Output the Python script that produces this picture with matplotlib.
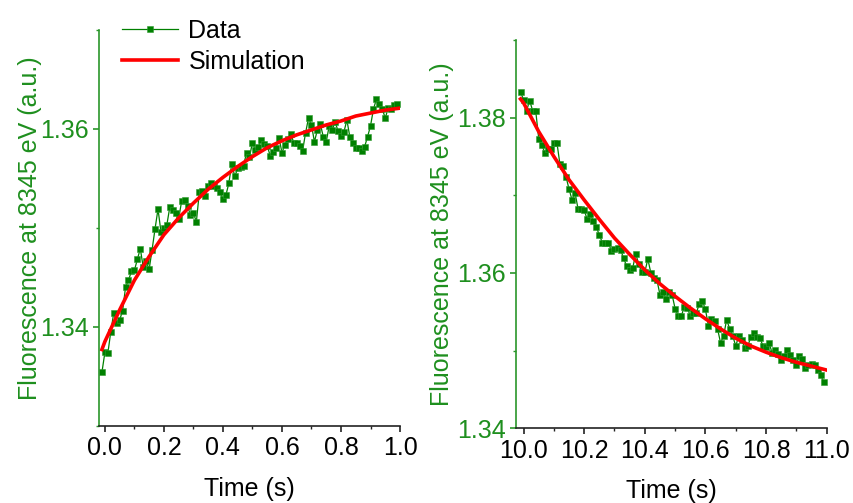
"""Fluorescence at 8345 eV vs time: rise (left) and decay (right) with simulation."""

import matplotlib.pyplot as plt
from matplotlib.ticker import MultipleLocator

plt.rcParams["font.family"] = ["Liberation Sans", "DejaVu Sans"]

GREEN = "#008000"
TEXT_GREEN = "#1e8f1e"
RED = "#ff0000"

# Left panel: rise, measured data (s, a.u.)
rise_time = [
    -0.01, 0.00, 0.01, 0.02, 0.03, 0.04, 0.05, 0.06, 0.07, 0.08,
    0.09, 0.10, 0.11, 0.12, 0.13, 0.14, 0.15, 0.16, 0.17, 0.18,
    0.19, 0.20, 0.21, 0.22, 0.23, 0.24, 0.25, 0.26, 0.27, 0.28,
    0.29, 0.30, 0.31, 0.32, 0.33, 0.34, 0.35, 0.36, 0.37, 0.38,
    0.39, 0.40, 0.41, 0.42, 0.43, 0.44, 0.45, 0.46, 0.47, 0.48,
    0.49, 0.50, 0.51, 0.52, 0.53, 0.54, 0.55, 0.56, 0.57, 0.58,
    0.59, 0.60, 0.61, 0.62, 0.63, 0.64, 0.65, 0.66, 0.67, 0.68,
    0.69, 0.70, 0.71, 0.72, 0.73, 0.74, 0.75, 0.76, 0.77, 0.78,
    0.79, 0.80, 0.81, 0.82, 0.83, 0.84, 0.85, 0.86, 0.87, 0.88,
    0.89, 0.90, 0.91, 0.92, 0.93, 0.94, 0.95, 0.96, 0.97, 0.98,
    0.99,
]
rise_data = [
    1.3354, 1.3374, 1.3373, 1.3395, 1.3414, 1.3404, 1.3407, 1.3416, 1.3440, 1.3447,
    1.3456, 1.3457, 1.3468, 1.3479, 1.3460, 1.3466, 1.3458, 1.3478, 1.3499, 1.3519,
    1.3496, 1.3500, 1.3503, 1.3521, 1.3518, 1.3515, 1.3509, 1.3527, 1.3528, 1.3522,
    1.3513, 1.3515, 1.3506, 1.3536, 1.3537, 1.3532, 1.3542, 1.3545, 1.3542, 1.3540,
    1.3536, 1.3529, 1.3533, 1.3545, 1.3565, 1.3552, 1.3560, 1.3561, 1.3563, 1.3576,
    1.3572, 1.3586, 1.3579, 1.3582, 1.3589, 1.3585, 1.3583, 1.3573, 1.3577, 1.3581,
    1.3591, 1.3576, 1.3584, 1.3590, 1.3595, 1.3586, 1.3586, 1.3583, 1.3578, 1.3596,
    1.3611, 1.3604, 1.3587, 1.3599, 1.3605, 1.3592, 1.3587, 1.3603, 1.3599, 1.3607,
    1.3598, 1.3593, 1.3597, 1.3609, 1.3592, 1.3586, 1.3581, 1.3581, 1.3578, 1.3582,
    1.3592, 1.3603, 1.3620, 1.3630, 1.3625, 1.3620, 1.3611, 1.3621, 1.3620, 1.3624,
    1.3625,
]
# Left panel: simulation curve
rise_sim_time = [-0.01, 0.00, 0.05, 0.10, 0.15, 0.20, 0.25, 0.30, 0.35, 0.40, 0.45,
                 0.50, 0.55, 0.60, 0.65, 0.70, 0.75, 0.80, 0.85, 0.90, 0.95, 1.00]
rise_sim = [1.3377, 1.3385, 1.3417, 1.3447, 1.3471, 1.3493, 1.3510, 1.3525, 1.3539, 1.3551,
            1.3562, 1.3572, 1.3581, 1.3588, 1.3594, 1.3599, 1.3604, 1.3608, 1.3613, 1.3616,
            1.3619, 1.3621]

# Right panel: decay, measured data
decay_time = [
    9.99, 10.00, 10.01, 10.02, 10.03, 10.04, 10.05, 10.06, 10.07, 10.08,
    10.09, 10.10, 10.11, 10.12, 10.13, 10.14, 10.15, 10.16, 10.17, 10.18,
    10.19, 10.20, 10.21, 10.22, 10.23, 10.24, 10.25, 10.26, 10.27, 10.28,
    10.29, 10.30, 10.31, 10.32, 10.33, 10.34, 10.35, 10.36, 10.37, 10.38,
    10.39, 10.40, 10.41, 10.42, 10.43, 10.44, 10.45, 10.46, 10.47, 10.48,
    10.49, 10.50, 10.51, 10.52, 10.53, 10.54, 10.55, 10.56, 10.57, 10.58,
    10.59, 10.60, 10.61, 10.62, 10.63, 10.64, 10.65, 10.66, 10.67, 10.68,
    10.69, 10.70, 10.71, 10.72, 10.73, 10.74, 10.75, 10.76, 10.77, 10.78,
    10.79, 10.80, 10.81, 10.82, 10.83, 10.84, 10.85, 10.86, 10.87, 10.88,
    10.89, 10.90, 10.91, 10.92, 10.93, 10.94, 10.95, 10.96, 10.97, 10.98,
    10.99,
]
decay_data = [
    1.3833, 1.3823, 1.3809, 1.3822, 1.3809, 1.3809, 1.3773, 1.3765, 1.3755, 1.3760,
    1.3759, 1.3767, 1.3768, 1.3740, 1.3738, 1.3724, 1.3708, 1.3694, 1.3703, 1.3682,
    1.3682, 1.3681, 1.3669, 1.3676, 1.3667, 1.3659, 1.3649, 1.3639, 1.3638, 1.3639,
    1.3628, 1.3631, 1.3632, 1.3630, 1.3619, 1.3609, 1.3604, 1.3606, 1.3625, 1.3611,
    1.3601, 1.3601, 1.3618, 1.3600, 1.3593, 1.3591, 1.3572, 1.3575, 1.3567, 1.3575,
    1.3572, 1.3554, 1.3545, 1.3544, 1.3556, 1.3555, 1.3545, 1.3549, 1.3549, 1.3560,
    1.3564, 1.3553, 1.3532, 1.3541, 1.3538, 1.3528, 1.3510, 1.3519, 1.3540, 1.3528,
    1.3519, 1.3506, 1.3519, 1.3514, 1.3503, 1.3506, 1.3518, 1.3523, 1.3518, 1.3516,
    1.3506, 1.3505, 1.3510, 1.3497, 1.3501, 1.3496, 1.3488, 1.3493, 1.3501, 1.3495,
    1.3488, 1.3482, 1.3493, 1.3489, 1.3478, 1.3482, 1.3483, 1.3482, 1.3475, 1.3469,
    1.3460,
]
# Right panel: simulation curve
decay_sim_time = [9.99, 10.00, 10.05, 10.10, 10.15, 10.20, 10.25, 10.30, 10.35, 10.40, 10.45,
                  10.50, 10.55, 10.60, 10.65, 10.70, 10.75, 10.80, 10.85, 10.90, 10.95, 11.00]
decay_sim = [1.3824, 1.3819, 1.3782, 1.3750, 1.3720, 1.3694, 1.3669, 1.3645, 1.3624, 1.3604,
             1.3586, 1.3570, 1.3555, 1.3541, 1.3528, 1.3516, 1.3506, 1.3498, 1.3491, 1.3485,
             1.3480, 1.3475]


def style_axis(ax, ylabel_x):
    """Origin-like look: green left axis, black bottom axis, no top/right."""
    ax.spines["top"].set_visible(False)
    ax.spines["right"].set_visible(False)
    ax.spines["left"].set_color("#2a962a")
    ax.spines["left"].set_linewidth(1.2)
    ax.spines["bottom"].set_color("#222222")
    ax.spines["bottom"].set_linewidth(1.2)
    ax.tick_params(axis="y", which="both", direction="out", colors="#2a962a",
                   labelcolor=TEXT_GREEN, labelsize=18)
    ax.tick_params(axis="x", which="both", direction="out", colors="#222222",
                   labelcolor="black", labelsize=18)
    ax.tick_params(which="major", length=4, width=1.2)
    ax.tick_params(which="minor", length=2.5, width=1.0)
    ax.set_xlabel("Time (s)", fontsize=18, labelpad=12)
    ax.set_ylabel("Fluorescence at 8345 eV (a.u.)", fontsize=18, color=TEXT_GREEN)
    ax.yaxis.set_label_coords(ylabel_x, 0.5)


fig = plt.figure(figsize=(8.54, 5.03), dpi=100)
ax1 = fig.add_axes([0.1159, 0.1537, 0.3525, 0.7867])
ax2 = fig.add_axes([0.6042, 0.1485, 0.3638, 0.7720])

# Left: rise
ax1.plot(rise_time, rise_data, color=GREEN, linewidth=0.9, marker="s", markersize=4,
         markeredgewidth=0.4, markeredgecolor="#2f9a2f", label="Data")
ax1.plot(rise_sim_time, rise_sim, color=RED, linewidth=2.6, label="Simulation")
ax1.set_xlim(-0.02, 1.0)
ax1.set_ylim(1.33, 1.37)
ax1.xaxis.set_major_locator(MultipleLocator(0.2))
ax1.xaxis.set_minor_locator(MultipleLocator(0.1))
ax1.yaxis.set_major_locator(MultipleLocator(0.02))
ax1.yaxis.set_minor_locator(MultipleLocator(0.01))
ax1.xaxis.set_major_formatter(lambda v, p: f"{v:.1f}")
ax1.yaxis.set_major_formatter(lambda v, p: f"{v:.2f}")
style_axis(ax1, -0.19)
ax1.legend(loc="upper left", bbox_to_anchor=(0.143, 0.962), bbox_transform=fig.transFigure,
           frameon=False, fontsize=18, borderpad=0, borderaxespad=0,
           handlelength=2.25, handletextpad=0.4, labelspacing=0.28)

# Right: decay
ax2.plot(decay_time, decay_data, color=GREEN, linewidth=0.9, marker="s", markersize=4,
         markeredgewidth=0.4, markeredgecolor="#2f9a2f")
ax2.plot(decay_sim_time, decay_sim, color=RED, linewidth=2.6)
ax2.set_xlim(9.975, 11.0)
ax2.set_ylim(1.34, 1.39)
ax2.xaxis.set_major_locator(MultipleLocator(0.2))
ax2.xaxis.set_minor_locator(MultipleLocator(0.1))
ax2.yaxis.set_major_locator(MultipleLocator(0.02))
ax2.yaxis.set_minor_locator(MultipleLocator(0.01))
ax2.xaxis.set_major_formatter(lambda v, p: f"{v:.1f}")
ax2.yaxis.set_major_formatter(lambda v, p: f"{v:.2f}")
style_axis(ax2, -0.20)

fig.savefig("out.png", dpi=100)
